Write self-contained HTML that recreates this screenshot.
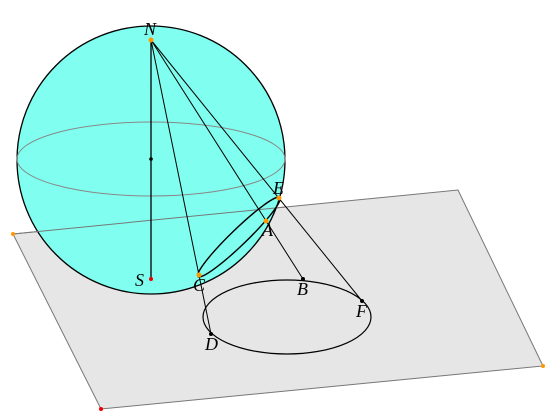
<!DOCTYPE html>
<html><head><meta charset="utf-8"><style>html,body{margin:0;padding:0;background:#fff}svg{display:block}text{font-family:"Liberation Serif",serif;font-style:italic;font-size:18px;fill:#000}</style></head>
<body>
<svg width="555" height="411" viewBox="0 0 555 411">
<polygon points="13,234 458,190 543,366 101,409" fill="#e6e6e6" stroke="#777" stroke-width="1"/>
<circle cx="151" cy="160" r="134" fill="#80fff0" stroke="#000" stroke-width="1.3"/>
<line x1="13" y1="234" x2="285" y2="207" stroke="#777" stroke-width="1"/>
<ellipse cx="151" cy="159" rx="134" ry="37" fill="none" stroke="#888" stroke-width="1"/>
<ellipse cx="287" cy="317" rx="84" ry="37" fill="none" stroke="#000" stroke-width="1.2"/>
<ellipse cx="239" cy="237" rx="57" ry="8" transform="rotate(-44 239 237)" fill="none" stroke="#000" stroke-width="1.4"/>
<g stroke="#000" stroke-width="1">
<line x1="151" y1="40" x2="151" y2="279" stroke-width="1.3"/>
<line x1="151" y1="40" x2="211" y2="334"/>
<line x1="151" y1="40" x2="303" y2="279"/>
<line x1="151" y1="40" x2="362" y2="301"/>
</g>
<circle cx="151" cy="159" r="1.8" fill="#000"/>
<circle cx="151" cy="40" r="2.5" fill="#f90"/>
<circle cx="151" cy="279" r="2" fill="#e00"/>
<circle cx="279" cy="198" r="2.5" fill="#f90"/>
<circle cx="266" cy="221" r="2.5" fill="#f90"/>
<circle cx="199" cy="275" r="2.5" fill="#f90"/>
<circle cx="303" cy="279" r="2" fill="#000"/>
<circle cx="362" cy="301" r="2" fill="#000"/>
<circle cx="211" cy="334" r="2" fill="#000"/>
<circle cx="13" cy="234" r="2" fill="#f90"/>
<circle cx="543" cy="366" r="2" fill="#f90"/>
<circle cx="101" cy="409" r="2" fill="#e00"/>
<text x="144" y="35">N</text>
<text x="135" y="286">S</text>
<text x="273" y="194">E</text>
<text x="262" y="236">A</text>
<text x="193" y="291">C</text>
<text x="297" y="295">B</text>
<text x="356" y="317">F</text>
<text x="205" y="350">D</text>
</svg>
</body></html>
